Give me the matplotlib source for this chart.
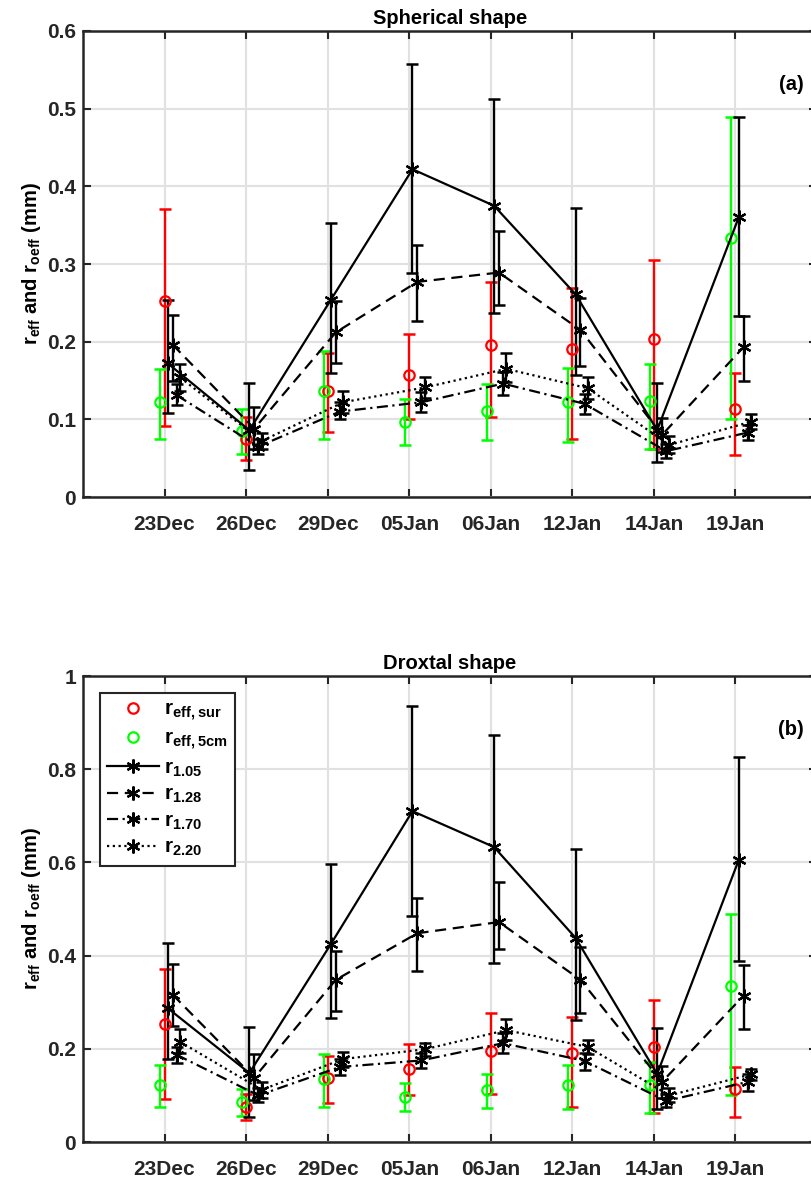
import numpy as np
import matplotlib
matplotlib.use("Agg")
import matplotlib.pyplot as plt

plt.rcParams['font.family'] = ['Liberation Sans', 'DejaVu Sans']
plt.rcParams['font.weight'] = 'bold'
plt.rcParams['mathtext.fontset'] = 'custom'
plt.rcParams['mathtext.rm'] = 'Liberation Sans'
plt.rcParams['mathtext.bf'] = 'Liberation Sans:bold'

dates = ['23Dec', '26Dec', '29Dec', '05Jan', '06Jan', '12Jan', '14Jan', '19Jan']

# measured effective radius (surface and 5 cm), mean with lower/upper bounds
r_sur = [0.253, 0.075, 0.137, 0.157, 0.196, 0.191, 0.203, 0.113]
r_sur_lo = [0.092, 0.048, 0.084, 0.100, 0.103, 0.075, 0.062, 0.054]
r_sur_hi = [0.371, 0.103, 0.185, 0.210, 0.277, 0.269, 0.305, 0.160]

r_5cm = [0.122, 0.085, 0.136, 0.097, 0.111, 0.122, 0.123, 0.334]
r_5cm_lo = [0.075, 0.055, 0.075, 0.067, 0.073, 0.071, 0.062, 0.100]
r_5cm_hi = [0.165, 0.113, 0.188, 0.126, 0.146, 0.166, 0.171, 0.489]

# optical radius, spherical shape
sph_105 = [0.172, 0.086, 0.254, 0.422, 0.375, 0.261, 0.086, 0.360]
sph_105_lo = [0.108, 0.035, 0.160, 0.288, 0.237, 0.157, 0.045, 0.233]
sph_105_hi = [0.254, 0.147, 0.353, 0.557, 0.512, 0.372, 0.147, 0.489]

sph_128 = [0.196, 0.088, 0.212, 0.277, 0.289, 0.215, 0.080, 0.193]
sph_128_lo = [0.150, 0.062, 0.172, 0.226, 0.247, 0.169, 0.058, 0.149]
sph_128_hi = [0.234, 0.116, 0.252, 0.324, 0.342, 0.256, 0.102, 0.233]

sph_170 = [0.131, 0.065, 0.110, 0.122, 0.146, 0.120, 0.059, 0.083]
sph_170_lo = [0.118, 0.055, 0.100, 0.109, 0.131, 0.107, 0.050, 0.073]
sph_170_hi = [0.145, 0.075, 0.122, 0.135, 0.161, 0.133, 0.068, 0.093]

sph_220 = [0.154, 0.072, 0.122, 0.141, 0.165, 0.140, 0.067, 0.097]
sph_220_lo = [0.137, 0.062, 0.108, 0.128, 0.148, 0.126, 0.057, 0.087]
sph_220_hi = [0.171, 0.082, 0.136, 0.154, 0.185, 0.154, 0.078, 0.107]

# optical radius, droxtal shape
drx_105 = [0.287, 0.148, 0.425, 0.710, 0.633, 0.438, 0.146, 0.605]
drx_105_lo = [0.178, 0.054, 0.266, 0.485, 0.385, 0.262, 0.070, 0.389]
drx_105_hi = [0.427, 0.247, 0.597, 0.936, 0.873, 0.629, 0.245, 0.826]

drx_128 = [0.316, 0.138, 0.348, 0.448, 0.472, 0.348, 0.129, 0.314]
drx_128_lo = [0.250, 0.090, 0.281, 0.367, 0.414, 0.277, 0.095, 0.243]
drx_128_hi = [0.382, 0.189, 0.410, 0.524, 0.558, 0.419, 0.163, 0.380]

drx_170 = [0.187, 0.100, 0.161, 0.175, 0.212, 0.174, 0.088, 0.129]
drx_170_lo = [0.170, 0.085, 0.144, 0.158, 0.190, 0.155, 0.075, 0.110]
drx_170_hi = [0.203, 0.115, 0.178, 0.190, 0.234, 0.190, 0.102, 0.145]

drx_220 = [0.215, 0.112, 0.178, 0.199, 0.240, 0.204, 0.100, 0.145]
drx_220_lo = [0.190, 0.095, 0.160, 0.185, 0.218, 0.189, 0.085, 0.132]
drx_220_hi = [0.242, 0.128, 0.193, 0.212, 0.264, 0.219, 0.115, 0.157]

x = np.arange(1, len(dates) + 1)
dark = '#262626'


def draw_series(ax, xs, v, lo, hi, color, ls, marker, ms, mfc, label):
    v = np.array(v)
    err = [v - np.array(lo), np.array(hi) - v]
    ax.errorbar(xs, v, yerr=err, fmt='none', ecolor=color, elinewidth=1.7,
                capsize=4.6, capthick=1.8, zorder=3)
    line, = ax.plot(xs, v, color=color, linestyle=ls, linewidth=1.6,
                    marker=marker, markersize=ms, markerfacecolor=mfc,
                    markeredgecolor=color, markeredgewidth=1.6,
                    label=label, zorder=4)
    return line


def panel(ax, title, tag, ymax, ystep, s105, s128, s170, s220):
    handles = []
    handles.append(draw_series(ax, x, r_sur, r_sur_lo, r_sur_hi, '#ff0000', 'none',
                               'o', 7.5, 'none', r'$\mathbf{r_{eff,sur}}$'))
    handles.append(draw_series(ax, x - 0.05, r_5cm, r_5cm_lo, r_5cm_hi, '#00ff00', 'none',
                               'o', 7.5, 'none', r'$\mathbf{r_{eff,5cm}}$'))
    star = (6, 2, 0)
    styles = [('-', 0.04, r'$\mathbf{r_{1.05}}$'),
              ((0, (5, 3)), 0.10, r'$\mathbf{r_{1.28}}$'),
              ((0, (5, 2, 1, 2)), 0.15, r'$\mathbf{r_{1.70}}$'),
              ((0, (1, 1.6)), 0.19, r'$\mathbf{r_{2.20}}$')]
    for (ls, off, lab), (v, lo, hi) in zip(styles, [s105, s128, s170, s220]):
        handles.append(draw_series(ax, x + off, v, lo, hi, 'black', ls,
                                   star, 10, 'none', lab))

    ax.set_xlim(0, 9)
    ax.set_ylim(0, ymax)
    ax.set_xticks(x)
    ax.set_xticklabels(dates)
    yt = np.arange(0, ymax + ystep / 2, ystep)
    ax.set_yticks(yt)
    ax.set_yticklabels(['%g' % t for t in np.round(yt, 2)])
    ax.grid(True, color='#e1e1e1', linewidth=1.5, zorder=0)
    ax.set_axisbelow(True)
    ax.tick_params(direction='in', length=6, width=1.5, colors=dark,
                   labelsize=15, top=True, right=True)
    ax.tick_params(axis='x', pad=13)
    ax.tick_params(axis='y', pad=5)
    for sp in ax.spines.values():
        sp.set_color(dark)
        sp.set_linewidth(1.8)
    ax.set_title(title, fontsize=14.5, fontweight='bold', pad=5)
    ax.set_ylabel(r'$\mathbf{r_{eff}}$ and $\mathbf{r_{oeff}}$ (mm)',
                  fontsize=14.5, fontweight='bold', labelpad=3)
    ax.text(0.965, 0.885, tag, transform=ax.transAxes, fontsize=14.5,
            fontweight='bold', ha='center', va='center')
    return handles


fig = plt.figure(figsize=(8.12, 11.8), dpi=100)
ax1 = fig.add_axes([83 / 812, 1 - 497 / 1180, 734 / 812, 466 / 1180])
ax2 = fig.add_axes([83 / 812, 1 - 1142 / 1180, 734 / 812, 466 / 1180])

panel(ax1, 'Spherical shape', '(a)', 0.6, 0.1,
      (sph_105, sph_105_lo, sph_105_hi), (sph_128, sph_128_lo, sph_128_hi),
      (sph_170, sph_170_lo, sph_170_hi), (sph_220, sph_220_lo, sph_220_hi))
hs = panel(ax2, 'Droxtal shape', '(b)', 1.0, 0.2,
           (drx_105, drx_105_lo, drx_105_hi), (drx_128, drx_128_lo, drx_128_hi),
           (drx_170, drx_170_lo, drx_170_hi), (drx_220, drx_220_lo, drx_220_hi))

leg = ax2.legend(handles=hs, loc='upper left', bbox_to_anchor=(0.023, 0.9635),
                 borderaxespad=0, fontsize=15, handlelength=2.5,
                 handletextpad=0.25, labelspacing=0.3, fancybox=False,
                 framealpha=1, edgecolor=dark, borderpad=0.35)
leg.get_frame().set_linewidth(1.5)

fig.savefig('out.png', dpi=100)
